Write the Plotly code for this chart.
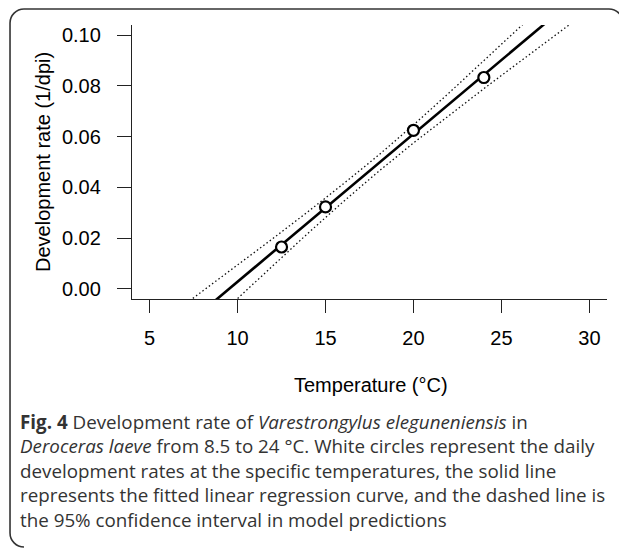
import plotly.graph_objects as go

# ---- data ----
temp_c = [12.5, 15, 20, 24]
dev_rate = [0.0165, 0.0323, 0.0625, 0.0833]

fit_x = [6, 30]
fit_y = [-0.0205, 0.1193]

ci_x = [6, 8, 10, 12, 14, 16, 18, 20, 22, 24, 26, 28, 30]
ci_lower = [-0.0295, -0.0166, -0.0036, 0.0092, 0.0219, 0.0343, 0.0462,
            0.0575, 0.0683, 0.0789, 0.0893, 0.0997, 0.1100]
ci_upper = [-0.0113, -0.0010, 0.0094, 0.0198, 0.0304, 0.0413, 0.0526,
            0.0646, 0.0771, 0.0898, 0.1026, 0.1156, 0.1286]

x_ticks = [5, 10, 15, 20, 25, 30]
y_ticks = [0.00, 0.02, 0.04, 0.06, 0.08, 0.10]
y_tick_labels = ["0.00", "0.02", "0.04", "0.06", "0.08", "0.10"]

x_title = "Temperature (°C)"
y_title = "Development rate (1/dpi)"
caption_lines = [
    "<b>Fig. 4</b> Development rate of <i>Varestrongylus eleguneniensis</i> in",
    "<i>Deroceras laeve</i> from 8.5 to 24 °C. White circles represent the daily",
    "development rates at the specific temperatures, the solid line",
    "represents the fitted linear regression curve, and the dashed line is",
    "the 95% confidence interval in model predictions",
]

# ---- layout geometry (screen pixels; page body has an 8px margin) ----
OFF = 8
W, H = 627 - OFF, 548 - OFF
L, R, T, B = 132 - OFF, 607 - OFF, 25 - OFF, 299 - OFF
PW, PH = R - L, B - T


def px(x):
    return round((x - OFF - L) / PW, 4)


def py(y):
    return round((B - (y - OFF)) / PH, 4)


fig = go.Figure()

for yy in (ci_lower, ci_upper):
    fig.add_trace(go.Scatter(x=ci_x, y=yy, mode="lines",
                             line=dict(color="#111111", width=1.3, dash="1.5px,2.5px"),
                             hoverinfo="skip", showlegend=False))

fig.add_trace(go.Scatter(x=fit_x, y=fit_y, mode="lines",
                         line=dict(color="black", width=2.6),
                         showlegend=False))

fig.add_trace(go.Scatter(x=temp_c, y=dev_rate, mode="markers",
                         marker=dict(symbol="circle", size=11, color="white",
                                     line=dict(color="black", width=2.2)),
                         showlegend=False))

axis_font = dict(family="Liberation Sans, Arial, sans-serif", size=20, color="black")

fig.update_xaxes(range=[4, 31], tickvals=x_ticks, ticks="outside", ticklen=13,
                 tickwidth=1.3, tickcolor="#222", showline=True, linecolor="#222",
                 linewidth=1.3, showgrid=False, zeroline=False, tickfont=axis_font,
                 ticklabelstandoff=8, automargin=False)
fig.update_yaxes(range=[-0.004, 0.104], tickvals=y_ticks, ticktext=y_tick_labels,
                 ticks="outside", ticklen=14, tickwidth=1.3, tickcolor="#222",
                 showline=True, linecolor="#222", linewidth=1.3, showgrid=False,
                 zeroline=False, tickfont=axis_font, ticklabelstandoff=12,
                 automargin=False)

annotations = [
    dict(text=x_title, x=px(371), y=py(385), xref="paper", yref="paper",
         xanchor="center", yanchor="middle", showarrow=False,
         font=dict(family="Liberation Sans, Arial, sans-serif", size=20, color="black")),
    dict(text=y_title, x=px(43), y=py(162), xref="paper", yref="paper",
         xanchor="center", yanchor="middle", showarrow=False, textangle=-90,
         font=dict(family="Liberation Sans, Arial, sans-serif", size=20, color="black")),
]
cap_centers = [422, 446, 471, 495, 520]
for line, yc in zip(caption_lines, cap_centers):
    annotations.append(dict(text=line, x=px(18), y=py(yc), xref="paper", yref="paper",
                            xanchor="left", yanchor="middle", showarrow=False,
                            font=dict(family="Open Sans, sans-serif", size=18.8,
                                      color="#333333")))

# rounded frame (screen pixel coordinates): straight sides + rounded corners
x0, x1, y0, y1, r = 10, 623, 9, 547, 14
k = 0.45
frame_line = dict(color="#333333", width=1.6)
shapes = [
    dict(type="line", xref="paper", yref="paper", x0=px(x0), x1=px(x0),
         y0=py(y0 + r), y1=py(y1 - r), line=frame_line),
    dict(type="line", xref="paper", yref="paper", x0=px(x0 + r), x1=px(x1 - r),
         y0=py(y0), y1=py(y0), line=frame_line),
    dict(type="line", xref="paper", yref="paper", x0=px(x1), x1=px(x1),
         y0=py(y0 + r), y1=py(y1 - r), line=frame_line),
    dict(type="path", xref="paper", yref="paper", line=frame_line,
         path=f"M {px(x0)},{py(y0 + r)} C {px(x0)},{py(y0 + r * k)} "
              f"{px(x0 + r * k)},{py(y0)} {px(x0 + r)},{py(y0)}"),
    dict(type="path", xref="paper", yref="paper", line=frame_line,
         path=f"M {px(x1 - r)},{py(y0)} C {px(x1 - r * k)},{py(y0)} "
              f"{px(x1)},{py(y0 + r * k)} {px(x1)},{py(y0 + r)}"),
    dict(type="path", xref="paper", yref="paper", line=frame_line,
         path=f"M {px(x0)},{py(y1 - r)} C {px(x0)},{py(y1 - r * k)} "
              f"{px(x0 + r * k)},{py(y1)} {px(x0 + r)},{py(y1)}"),
]

fig.update_layout(
    width=W, height=H,
    margin=dict(l=L, r=W - R, t=T, b=H - B, pad=0),
    paper_bgcolor="white", plot_bgcolor="rgba(0,0,0,0)",
    annotations=annotations,
    shapes=shapes,
    showlegend=False,
)

fig.write_html("out.html", config={"displayModeBar": False})
